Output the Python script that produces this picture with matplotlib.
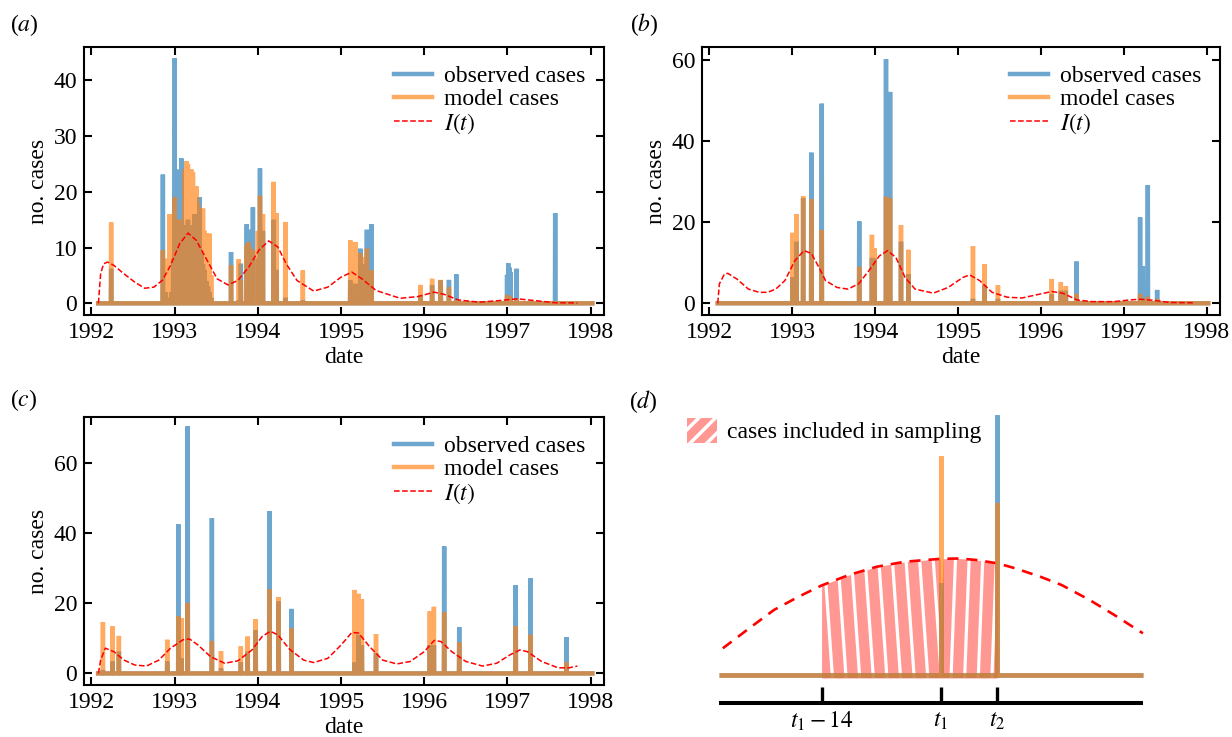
import numpy as np
import matplotlib
matplotlib.use("Agg")
import matplotlib.pyplot as plt
from matplotlib.patches import Patch

plt.rcParams["font.family"] = ["Liberation Serif", "DejaVu Serif"]
plt.rcParams["mathtext.fontset"] = "stix"
plt.rcParams["font.size"] = 17
plt.rcParams["hatch.linewidth"] = 2.5

BLUE = "#1f77b4"
ORANGE = "#ff7f0e"
SALMON = "#ff9892"
ALPHA = 0.65

W, H = 1232, 737

# ---- panel (a): spike dates (decimal years), observed and model counts
a_dates = [1992.236, 1992.858, 1992.89,
           1992.94, 1992.96, 1992.98, 1993.00, 1993.02, 1993.04, 1993.06, 1993.08,
           1993.10, 1993.12, 1993.14, 1993.16, 1993.18, 1993.20, 1993.22, 1993.24,
           1993.26, 1993.28, 1993.30, 1993.32, 1993.34, 1993.36, 1993.38, 1993.40,
           1993.42, 1993.44,
           1993.678, 1993.77, 1993.795, 1993.865, 1993.885, 1993.905, 1993.94,
           1994.00, 1994.025, 1994.06, 1994.19, 1994.225, 1994.33, 1994.54,
           1995.11, 1995.17, 1995.23, 1995.27, 1995.31, 1995.365,
           1995.957, 1996.094, 1996.198, 1996.297, 1996.385,
           1996.994, 1997.01, 1997.025, 1997.04, 1997.11, 1997.574]
a_obs = [6.2, 23.1, 2.0,
         1, 2, 8, 44, 24, 18, 18, 26,
         10, 14, 12, 15, 13, 11, 14, 16,
         12, 10, 19, 9, 7, 6, 4, 3,
         2, 1,
         9.2, 0.5, 7.1, 14.2, 12.0, 13.2, 17.2,
         8, 24.2, 13, 15, 6, 1, 0.5,
         4.1, 3.5, 9.8, 7, 13.2, 14.2,
         1.4, 3.2, 4.1, 4.2, 5.2,
         5.1, 7.2, 6.4, 5.6, 6.2, 16.2]
a_model = [14.5, 9.5, 8.0,
           16, 12, 14, 19, 15, 13, 15, 11,
           14, 24, 25.5, 25, 22, 24, 23.5, 20,
           21, 18, 17, 15, 17, 13, 12.5, 12,
           12.5, 5,
           6.8, 7.9, 4.1, 10.5, 11, 10, 9.5,
           13, 19.3, 16, 21.8, 16.2, 14.6, 5.9,
           11.3, 11.0, 9.0, 8.3, 9.8, 5.9,
           3.3, 4.4, 4.2, 2.9, 0.6,
           1.5, 1.3, 1.2, 1.0, 0.8, 0.4]
a_it_x = [1992.083, 1992.11, 1992.145, 1992.195, 1992.27, 1992.39, 1992.52, 1992.64,
          1992.75, 1992.85, 1992.95, 1993.06, 1993.16, 1993.26, 1993.39, 1993.51,
          1993.64, 1993.76, 1993.89, 1994.01, 1994.13, 1994.24, 1994.34, 1994.47,
          1994.67, 1994.84, 1995.0, 1995.13, 1995.25, 1995.42, 1995.71, 1995.92,
          1996.12, 1996.24, 1996.41, 1996.66, 1996.91, 1997.12, 1997.32, 1997.57,
          1997.84]
a_it_y = [0, 5.3, 7.1, 7.4, 6.8, 5.3, 3.8, 2.7,
          2.9, 4.1, 6.8, 10.7, 12.6, 11.3, 7.7, 4.4,
          3.3, 4.1, 6.5, 9.5, 11.2, 10.1, 7.1, 4.1,
          2.2, 2.9, 4.7, 5.6, 4.4, 2.3, 0.9, 1.2,
          2.0, 1.6, 0.6, 0.2, 0.5, 0.8, 0.5, 0.1,
          0.06]

# ---- panel (b)
b_dates = [1993.00, 1993.05, 1993.13, 1993.23, 1993.356, 1993.806, 1993.96, 1993.99,
           1994.13, 1994.18, 1994.31, 1994.40, 1995.18, 1995.32, 1995.48, 1996.13,
           1996.24, 1996.30, 1996.43, 1997.196, 1997.23, 1997.29, 1997.40]
b_obs = [6.4, 15.2, 26.0, 37.2, 49.3, 20.2, 11.2, 11.0,
         60.3, 52.2, 15.2, 7.2, 1.1, 4.4, 1.1, 2.3,
         3.1, 3.1, 10.3, 21.2, 9.1, 29.2, 3.3]
b_model = [17.4, 22.0, 26.4, 25.7, 18.1, 9.0, 16.9, 13.6,
           26.3, 25.9, 19.3, 13.2, 14.1, 9.7, 4.5, 6.0,
           5.2, 4.2, 2.3, 2.3, 1.0, 1.6, 1.1]
b_it_x = [1992.10, 1992.12, 1992.18, 1992.22, 1992.33, 1992.47, 1992.60, 1992.70,
          1992.80, 1992.91, 1993.03, 1993.14, 1993.23, 1993.32, 1993.40, 1993.54,
          1993.67, 1993.80, 1993.94, 1994.05, 1994.15, 1994.25, 1994.36, 1994.48,
          1994.70, 1994.88, 1995.06, 1995.14, 1995.26, 1995.41, 1995.59, 1995.77,
          1995.95, 1996.13, 1996.26, 1996.44, 1996.62, 1996.88, 1997.06, 1997.20,
          1997.37, 1997.55, 1997.84]
b_it_y = [0, 4.8, 7.2, 7.4, 6.0, 3.5, 2.7, 2.7,
          3.5, 5.6, 10.5, 13.0, 12.3, 8.9, 5.6, 3.9,
          3.5, 4.8, 8.5, 11.7, 13.0, 11.3, 6.4, 3.5,
          2.5, 3.9, 6.4, 7.0, 5.6, 2.7, 1.5, 1.3,
          2.1, 2.9, 2.5, 0.8, 0.4, 0.4, 0.8, 1.0,
          0.7, 0.2, 0.1]

# ---- panel (c)
c_dates = [1992.137, 1992.253, 1992.33, 1992.91, 1993.044, 1993.08, 1993.156, 1993.446,
           1993.558, 1993.794, 1993.877, 1993.973, 1994.138, 1994.25, 1994.404, 1995.162,
           1995.21, 1995.25, 1995.42, 1996.065, 1996.115, 1996.24, 1996.42, 1997.10,
           1997.276, 1997.71]
c_obs = [1.0, 3.4, 6.2, 3.4, 42.5, 4.3, 70.5, 44.3,
         1.4, 3.1, 6.2, 12.3, 46.3, 20.5, 18.4, 3.1,
         11.0, 8.1, 5.8, 8.1, 8.1, 36.2, 13.2, 25.2,
         27.1, 10.3]
c_model = [14.6, 13.4, 10.7, 9.6, 16.3, 15.8, 20.1, 9.1,
           6.4, 7.7, 10.5, 15.5, 24.0, 21.8, 12.8, 23.8,
           22.7, 21.1, 11.2, 17.7, 19.0, 17.4, 8.8, 13.4,
           11.0, 3.1]
c_it_x = [1992.083, 1992.11, 1992.166, 1992.27, 1992.39, 1992.52, 1992.66, 1992.81,
          1992.95, 1993.10, 1993.18, 1993.28, 1993.43, 1993.60, 1993.76, 1993.93,
          1994.05, 1994.15, 1994.24, 1994.38, 1994.55, 1994.67, 1994.84, 1995.00,
          1995.13, 1995.21, 1995.34, 1995.50, 1995.67, 1995.83, 1996.00, 1996.12,
          1996.20, 1996.33, 1996.50, 1996.70, 1996.87, 1997.03, 1997.15, 1997.24,
          1997.41, 1997.61, 1997.74, 1997.84]
c_it_y = [0, 3.8, 7.2, 6.2, 3.8, 2.4, 2.1, 3.8,
          7.2, 9.6, 9.8, 8.1, 4.8, 2.9, 3.6, 6.7,
          10.5, 12.0, 11.0, 6.9, 3.8, 3.1, 4.3, 8.1,
          11.7, 11.5, 7.7, 3.8, 2.7, 3.4, 6.2, 9.4,
          9.1, 6.2, 3.4, 2.1, 2.9, 5.3, 6.7, 6.2,
          3.4, 1.6, 1.6, 2.1]

# ---- panel (d): schematic, time in days relative to t1
d_span = [-26.05, 23.8]
d_tick_pos = [-14.0, 0.0, 6.66]
d_tick_labels = [r"$t_1 - 14$", r"$t_1$", r"$t_2$"]
d_spike_t = [0.0, 6.66]
d_obs = [9.2, 26.0]
d_model = [21.9, 17.2]
d_curve_x = [-25.6, -22.5, -19.6, -16.7, -14.0, -10.8, -7.5, -4.2, 0.0, 2.2,
             4.2, 6.66, 8.75, 11.7, 14.2, 17.5, 20.4, 23.75]
d_curve_y = [2.67, 4.67, 6.5, 7.83, 8.95, 10.0, 10.83, 11.33, 11.62, 11.65,
             11.5, 11.17, 10.67, 9.83, 9.0, 7.5, 6.0, 4.17]


def px_rect(left, top, right, bottom):
    """Figure-fraction rect from pixel edges."""
    return [left / W, 1 - bottom / H, (right - left) / W, (bottom - top) / H]


def daily(start, end, dates, values):
    t = np.arange(start, end, 1 / 365.0)
    y = np.zeros_like(t)
    idx = np.round((np.asarray(dates) - start) * 365.0).astype(int)
    y[idx] = values
    return t, y


def draw_panel(ax, start, dates, obs, model, it_x, it_y, ylim, yticks):
    t, o = daily(start, 1998.02, dates, obs)
    _, m = daily(start, 1998.02, dates, model)
    ax.plot(t, o, color=BLUE, alpha=ALPHA, lw=3.2, solid_joinstyle="bevel",
            label="observed cases")
    ax.plot(t, m, color=ORANGE, alpha=ALPHA, lw=3.2, solid_joinstyle="bevel",
            label="model cases")
    ax.plot(it_x, it_y, "--", color="red", lw=1.1, label=r"$I(t)$")

    ax.set_xlim(1991.91, 1998.16)
    ax.set_ylim(*ylim)
    ax.set_xticks(range(1992, 1999))
    ax.set_yticks(yticks)
    ax.tick_params(direction="in", length=6, width=1.5, pad=5,
                   top=True, right=True)
    for s in ax.spines.values():
        s.set_linewidth(1.5)
    ax.set_xlabel("date", labelpad=3)
    ax.set_ylabel("no. cases", labelpad=3)
    ax.legend(loc="upper right", frameon=False, handlelength=1.6,
              handletextpad=0.5, labelspacing=0.05, borderaxespad=0.4)


def draw_schematic(ax):
    ax.set_xlim(-30.63, 25.76)
    ax.set_ylim(-6.2, 27.5)
    ax.axis("off")

    cx = np.asarray(d_curve_x)
    cy = np.asarray(d_curve_y)
    # hatched region under I(t) between t1-14 and t2
    for lo, hi, lean in [(d_tick_pos[0], d_tick_pos[1], 1.1),
                         (d_tick_pos[1], d_tick_pos[2], -0.6)]:
        m = (cx >= lo) & (cx <= hi)
        poly = ax.fill_between(cx[m], -0.3, cy[m], color=SALMON, lw=0, zorder=1)
        clip = poly.get_paths()[0]
        for x0 in np.arange(lo - 3, hi + 3, 1.6):
            ln, = ax.plot([x0, x0 + lean], [13, -0.5], color="white", lw=2.3,
                          zorder=1.5, solid_capstyle="butt")
            ln.set_clip_path(clip, ax.transData)

    ax.plot(cx, cy, color="red", lw=1.9, dashes=(4.2, 3.0), zorder=2)

    # observed / model spikes on the baseline
    for vals, col in [(d_obs, BLUE), (d_model, ORANGE)]:
        xs, ys = [d_span[0]], [0.0]
        for t, v in zip(d_spike_t, vals):
            xs += [t, t, t]
            ys += [0.0, v, 0.0]
        xs.append(d_span[1])
        ys.append(0.0)
        ax.plot(xs, ys, color=col, alpha=ALPHA, lw=3.4, solid_joinstyle="miter",
                solid_capstyle="butt", zorder=3)

    # time axis
    ax.hlines(-2.77, d_span[0], d_span[1], color="black", lw=2.9)
    ax.vlines(d_tick_pos, -2.77, -1.17, color="black", lw=2.4)
    for x, lab in zip(d_tick_pos, d_tick_labels):
        ax.text(x, -4.6, lab, ha="center", va="center")

    handle = Patch(facecolor=SALMON, edgecolor="white", hatch="//", lw=0,
                   label="cases included in sampling")
    ax.legend(handles=[handle], loc="upper left",
              bbox_to_anchor=(687 / W, 1 - 418 / H),
              bbox_transform=ax.figure.transFigure, frameon=False,
              borderpad=0, borderaxespad=0, handlelength=1.25, handleheight=1.25,
              handletextpad=0.45)


fig = plt.figure(figsize=(W / 100, H / 100), dpi=100)
ax_a = fig.add_axes(px_rect(84, 47, 604, 315))
ax_b = fig.add_axes(px_rect(702, 47, 1220, 315))
ax_c = fig.add_axes(px_rect(84, 417, 604, 685))
ax_d = fig.add_axes(px_rect(680, 400, 1160, 737))

draw_panel(ax_a, 1992.08, a_dates, a_obs, a_model, a_it_x, a_it_y,
           (-2.1, 46.0), [0, 10, 20, 30, 40])
draw_panel(ax_b, 1992.10, b_dates, b_obs, b_model, b_it_x, b_it_y,
           (-2.9, 63.3), [0, 20, 40, 60])
draw_panel(ax_c, 1992.08, c_dates, c_obs, c_model, c_it_x, c_it_y,
           (-3.3, 73.1), [0, 20, 40, 60])
draw_schematic(ax_d)

for lab, x, y in [("a", 24, 25), ("b", 644, 25), ("c", 24, 400), ("d", 643, 402)]:
    fig.text(x / W, 1 - y / H, f"(${lab}$)", ha="center", va="center")

fig.savefig("out.png", dpi=100)
